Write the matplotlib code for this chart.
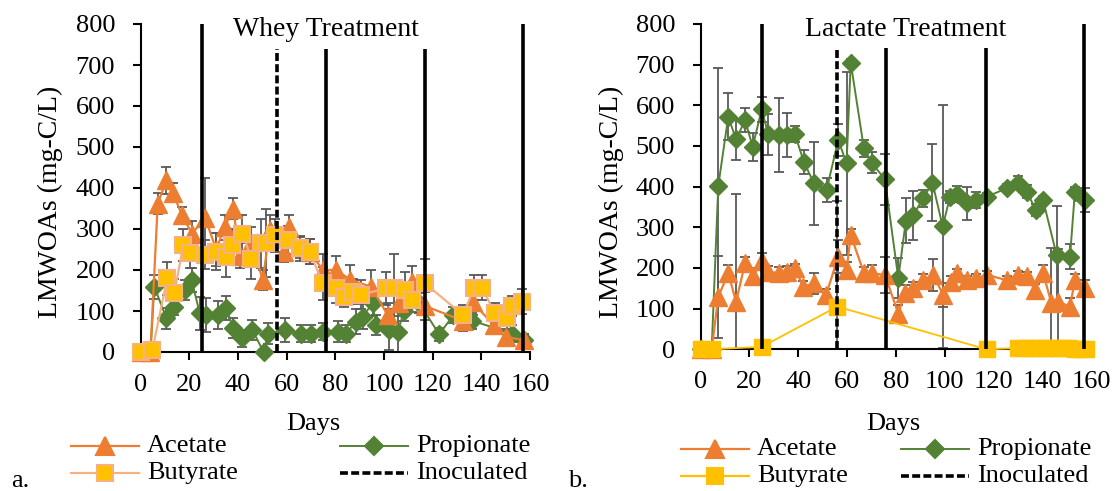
import matplotlib
matplotlib.use("Agg")
import matplotlib.pyplot as plt
from matplotlib.lines import Line2D
import numpy as np

plt.rcParams['font.family'] = ['Liberation Serif', 'DejaVu Serif']

W, H = 1115, 491

# ---------------- data: Whey treatment (a) ----------------
whey_acetate_days = [0, 4, 7, 10.6, 13.1, 17, 21, 26.6, 31, 34.5, 38, 40.7, 45.5, 50.2, 53, 59, 61,
                     65.5, 69.5, 74.8, 80.3, 86.2, 94.7, 101.5, 106, 111.7, 117, 132.5, 136.5, 145, 150, 157.5]
whey_acetate = [0, 0, 362, 419, 389, 334, 289, 326, 250, 304, 350, 235, 265, 176, 298, 245, 305,
                255, 245, 200, 200, 176, 159, 90, 119, 170, 112, 76, 121, 66, 37, 29]
whey_acetate_err = [0, 0, 25, 33, 24, 20, 30, 98, 40, 30, 26, 30, 40, 25, 35, 25, 30,
                    25, 30, 40, 35, 35, 40, 30, 30, 40, 35, 25, 30, 20, 20, 15]

whey_butyrate_days = [0, 4.8, 10.9, 13.8, 17.5, 20.2, 26.6, 31.1, 35, 37.7, 41.8, 45.5, 49.6, 51.6, 55,
                      60.5, 65.3, 69.4, 74.8, 80.3, 83.7, 87.1, 90.6, 100.8, 104.2, 108.5, 111.7, 116.7,
                      132.5, 137, 140.4, 145.5, 150.7, 152.7, 156.8]
whey_butyrate = [0, 5, 180, 143, 261, 241, 237, 245, 232, 261, 289, 228, 265, 265, 285,
                 273, 253, 245, 168, 155, 135, 147, 140, 155, 155, 151, 127, 168,
                 90, 157, 157, 94, 82, 112, 123]
whey_butyrate_err = [0, 0, 40, 35, 40, 35, 35, 45, 50, 40, 45, 50, 60, 83, 40,
                     35, 30, 30, 40, 35, 25, 30, 35, 40, 85, 45, 30, 60,
                     25, 30, 30, 25, 30, 25, 30]

whey_propionate_days = [0, 4, 5.6, 10.6, 13.8, 18.2, 20.9, 24.3, 26.8, 31.8, 35.2, 38, 41.8, 45.9, 50.5,
                        52.3, 59.5, 66, 70, 74.8, 81, 84.4, 88.5, 91.2, 95.3, 96.7, 102, 105.6, 108.3,
                        114.5, 122.7, 128.5, 136.3, 152.7, 157.5]
whey_propionate = [0, 0, 159, 82, 110, 151, 176, 94, 90, 90, 107, 58, 33, 54, 0,
                   45, 54, 45, 45, 50, 50, 45, 74, 86, 119, 66, 54, 50, 100,
                   119, 43, 90, 76, 45, 29]
whey_propionate_err = [0, 0, 30, 25, 20, 25, 30, 40, 42, 35, 30, 25, 20, 25, 0,
                       25, 30, 20, 20, 20, 25, 20, 30, 30, 30, 25, 50, 50, 25,
                       25, 15, 20, 20, 20, 15]

# ---------------- data: Lactate treatment (b) ----------------
lac_propionate_days = [0, 4.5, 7.2, 11.3, 14.5, 18.2, 21.3, 25, 27.7, 32.2, 35.2, 38.6, 42.3, 46.4, 51.6,
                       56.4, 59.8, 61.5, 66.9, 70.1, 75.5, 81, 84.1, 87.1, 91.2, 95, 99.2, 102.2, 105.2,
                       109, 112.8, 117.2, 125.4, 130.2, 133.6, 137.4, 140.4, 145.9, 151.4, 153.4, 157.5]
lac_propionate = [0, 0, 402, 572, 516, 564, 498, 590, 529, 527, 527, 529, 461, 408, 392,
                  515, 457, 705, 494, 459, 418, 175, 316, 330, 371, 410, 302, 375, 382,
                  359, 367, 375, 396, 410, 388, 343, 366, 232, 228, 388, 367]
lac_propionate_err = [0, 0, 290, 58, 50, 30, 35, 30, 50, 90, 55, 20, 30, 102, 30,
                      40, 225, 10, 20, 25, 63, 50, 55, 60, 20, 95, 300, 15, 20,
                      40, 20, 10, 10, 15, 15, 15, 10, 120, 30, 10, 30]

lac_acetate_days = [0, 4.5, 7.2, 11.3, 14.5, 18.2, 21.3, 25, 27.7, 32.2, 35.2, 38.6, 42, 46.4, 51.4,
                    56.4, 59.8, 61.5, 66.9, 70.1, 75.5, 81, 83.7, 87.1, 91.2, 95.3, 99.4, 102.5, 105.2,
                    109, 112.8, 117.5, 125.4, 130, 133.6, 137, 140.4, 143.8, 146.6, 151.4, 153.4, 157.5]
lac_acetate = [0, 0, 129, 187, 117, 212, 180, 216, 191, 187, 191, 199, 154, 162, 134,
               228, 195, 281, 188, 187, 183, 88, 138, 150, 170, 183, 134, 166, 187,
               170, 175, 183, 170, 183, 180, 146, 187, 113, 117, 105, 170, 150]
lac_acetate_err = [0, 0, 100, 20, 265, 15, 20, 20, 15, 15, 15, 10, 15, 25, 15,
                   40, 20, 15, 15, 20, 45, 20, 20, 15, 15, 40, 30, 15, 10,
                   10, 10, 10, 10, 10, 10, 15, 20, 135, 130, 20, 15, 20]

lac_butyrate_days = [0, 4.5, 25, 56, 117.2, 130, 133, 136, 138.5, 141, 143.5, 146, 148.5, 151, 153.5, 156, 158]
lac_butyrate = [0, 0, 6, 105, 0, 3, 4, 2, 3, 4, 3, 2, 3, 2, 1, 1, 0]
lac_butyrate_err = [0, 0, 0, 260, 0, 0, 0, 0, 0, 0, 0, 0, 0, 0, 0, 0, 0]

# phase boundaries (day, top of line) and inoculation
phase_days = [25, 76, 117, 157]
phase_tops = [800, 740, 740, 800]
inoc_day = 56
inoc_top = 740

x_ticks = [0, 20, 40, 60, 80, 100, 120, 140, 160]
y_ticks = [0, 100, 200, 300, 400, 500, 600, 700, 800]

# ---------------- style ----------------
C_ACE = '#ED7D31'
C_PRO = '#548235'
C_BUT = '#FFC000'
C_BUT_L = '#F4B183'
C_ERR = '#595959'
FS = 19
MS_TRI, MS_SQ, MS_DIA = 12.5, 12, 9.5
DASH = (0, (2.2, 0.9))

fig = plt.figure(figsize=(W / 100, H / 100), dpi=100)


def fx(x):
    return x / W


def fy(y):
    return 1 - y / H


def make_ax(left, right, bottom, top):
    return fig.add_axes([fx(left), fy(bottom), fx(right) - fx(left), (bottom - top) / H])


def errbars(ax, d, v, e):
    v = np.array(v, float)
    e = np.array(e, float)
    lower = np.minimum(e, v)
    ax.errorbar(d, v, yerr=[lower, e], fmt='none', ecolor=C_ERR, elinewidth=1.3,
                capsize=3.5, capthick=1.3, zorder=2, clip_on=False)


# ---- panel a ----
axa = make_ax(140.7, 530, 352, 24)
for d, v, e in [(whey_propionate_days, whey_propionate, whey_propionate_err),
                (whey_acetate_days, whey_acetate, whey_acetate_err),
                (whey_butyrate_days, whey_butyrate, whey_butyrate_err)]:
    errbars(axa, d, v, e)
axa.plot(whey_propionate_days, whey_propionate, color=C_PRO, lw=1.4, marker='D', ms=MS_DIA,
         mfc=C_PRO, mec=C_PRO, zorder=3, clip_on=False)
axa.plot(whey_acetate_days, whey_acetate, color=C_ACE, lw=1.6, marker='^', ms=MS_TRI,
         mfc=C_ACE, mec=C_ACE, zorder=4, clip_on=False)
axa.plot(whey_butyrate_days, whey_butyrate, color=C_BUT_L, lw=1.6, marker='s', ms=MS_SQ,
         mfc=C_BUT, mec=C_BUT_L, mew=1.5, zorder=5, clip_on=False)

# ---- panel b ----
axb = make_ax(700.7, 1091, 349.3, 24)
for d, v, e in [(lac_propionate_days, lac_propionate, lac_propionate_err),
                (lac_acetate_days, lac_acetate, lac_acetate_err),
                (lac_butyrate_days, lac_butyrate, lac_butyrate_err)]:
    errbars(axb, d, v, e)
axb.plot(lac_propionate_days, lac_propionate, color=C_PRO, lw=1.4, marker='D', ms=MS_DIA,
         mfc=C_PRO, mec=C_PRO, zorder=3, clip_on=False)
axb.plot(lac_acetate_days, lac_acetate, color=C_ACE, lw=1.6, marker='^', ms=MS_TRI,
         mfc=C_ACE, mec=C_ACE, zorder=4, clip_on=False)
axb.plot(lac_butyrate_days, lac_butyrate, color=C_BUT, lw=1.3, marker='s', ms=MS_SQ,
         mfc=C_BUT, mec=C_BUT, zorder=5, clip_on=False)

for ax in (axa, axb):
    ax.set_xlim(0, 160)
    ax.set_ylim(0, 800)
    ax.set_xticks(x_ticks)
    ax.set_yticks(y_ticks)
    for s in ['top', 'right']:
        ax.spines[s].set_visible(False)
    for s in ['left', 'bottom']:
        ax.spines[s].set_linewidth(1.5)
        ax.spines[s].set_color('black')
    ax.tick_params(axis='both', direction='out', length=5.5, width=1.5, labelsize=FS, colors='black')
    ax.tick_params(axis='y', pad=13)
    ax.tick_params(axis='x', pad=10)
    for dday, top in zip(phase_days, phase_tops):
        ax.plot([dday, dday], [0, top], color='black', lw=2.6, zorder=6, clip_on=False,
                solid_capstyle='butt')
    ax.plot([inoc_day, inoc_day], [0, inoc_top], color='black', lw=2.6, zorder=6,
            linestyle=DASH, clip_on=False)

# ---- texts ----
fig.text(fx(326), fy(30), 'Whey Treatment', ha='center', va='center', fontsize=20)
fig.text(fx(906), fy(30), 'Lactate Treatment', ha='center', va='center', fontsize=20)
fig.text(fx(50), fy(202), 'LMWOAs (mg-C/L)', rotation=90, ha='center', va='center', fontsize=20)
fig.text(fx(611), fy(202), 'LMWOAs (mg-C/L)', rotation=90, ha='center', va='center', fontsize=20)
fig.text(fx(313), fy(424), 'Days', ha='center', va='center', fontsize=FS)
fig.text(fx(893), fy(424), 'Days', ha='center', va='center', fontsize=FS)
fig.text(fx(11), fy(481), 'a.', ha='left', va='center', fontsize=FS)
fig.text(fx(568), fy(481), 'b.', ha='left', va='center', fontsize=FS)


# ---- legends (drawn manually) ----
def handle(x0, x1, y, label, color, marker=None, mfc=None, mec=None, ms=10, ls='-', lw=1.6):
    xm = (x0 + x1) / 2
    ln = Line2D([fx(x0), fx(xm), fx(x1)], [fy(y)] * 3, transform=fig.transFigure,
                color=color, lw=lw, linestyle=ls, marker=marker, markevery=[1],
                mfc=mfc, mec=mec, ms=ms, mew=1.5)
    fig.add_artist(ln)
    fig.text(fx(x1 + 8), fy(y), label, ha='left', va='center', fontsize=FS)


def legend(x_c1, x_c2, y1, y2, but_line, but_edge):
    handle(x_c1, x_c1 + 68, y1, 'Acetate', C_ACE, '^', C_ACE, C_ACE, MS_TRI)
    handle(x_c1, x_c1 + 68, y2, 'Butyrate', but_line, 's', C_BUT, but_edge, MS_SQ)
    handle(x_c2, x_c2 + 68, y1, 'Propionate', C_PRO, 'D', C_PRO, C_PRO, MS_DIA, lw=1.4)
    handle(x_c2, x_c2 + 68, y2, 'Inoculated', 'black', None, ls=DASH, lw=2.6)


legend(71, 340, 446, 473, C_BUT_L, C_BUT_L)
legend(681, 901, 449, 476, C_BUT, C_BUT)

fig.savefig('out.png', dpi=100)
